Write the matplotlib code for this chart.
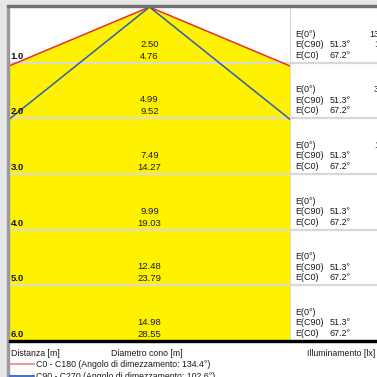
import numpy as np
import matplotlib
matplotlib.use("Agg")
from matplotlib import pyplot as plt
from matplotlib.patches import Rectangle, Polygon

plt.rcParams['font.family'] = ['Liberation Sans', 'DejaVu Sans']

# dati
distanze = [1.0, 2.0, 3.0, 4.0, 5.0, 6.0]
diam_c90 = [2.50, 4.99, 7.49, 9.99, 12.48, 14.98]
diam_c0 = [4.76, 9.52, 14.27, 19.03, 23.79, 28.55]
e_0 = [1375, 344, 153, 86, 55, 38]
e_c90 = [172, 43, 19, 11, 6.9, 4.8]
e_c0 = [40, 10, 4.4, 2.5, 1.6, 1.1]
ang_c90 = 51.3
ang_c0 = 67.2
angolo_c0_c180 = 134.4
angolo_c90_c270 = 102.6

W, H = 377, 377
fig = plt.figure(figsize=(W / 100, H / 100), dpi=100)
fig.patch.set_facecolor('white')

def px(x0, y0, x1, y1):
    # rettangolo in pixel (origine in alto a sinistra) -> coordinate figura
    return [x0 / W, 1 - y1 / H, (x1 - x0) / W, (y1 - y0) / H]

# cornice grigia
fig.add_artist(Rectangle((0, 0), 7 / W, 1, transform=fig.transFigure, color='#e6e6e6', zorder=0))
fig.add_artist(Rectangle((0, 1 - 5 / H), 1, 5 / H, transform=fig.transFigure, color='#e6e6e6', zorder=0))
fig.add_artist(Rectangle((6.5 / W, 0), 2 / W, 1 - 5 / H, transform=fig.transFigure, color='#9a9a9a', zorder=1))
fig.add_artist(Rectangle((6.5 / W, 1 - 7 / H), 1, 2 / H, transform=fig.transFigure, color='#707070', zorder=1))

dmax = 6.0
xmax = 2.52

# area del cono
ax = fig.add_axes(px(9, 7, 290, 341))
ax.set_xlim(-xmax, xmax)
ax.set_ylim(dmax, 0)
ax.axis('off')

t0 = np.tan(np.radians(ang_c0))
t90 = np.tan(np.radians(ang_c90))
ax.add_patch(Polygon([(0, 0), (-t0 * dmax, dmax), (t0 * dmax, dmax)], closed=True,
                     facecolor='#fff200', edgecolor='none', zorder=1))
ax.plot([-t0 * dmax, 0, t0 * dmax], [dmax, 0, dmax], color='#e8302e', lw=1.1, zorder=3)
ax.plot([-t90 * dmax, 0, t90 * dmax], [dmax, 0, dmax], color='#2a5db8', lw=1.1, zorder=3)

for d in distanze[:-1]:
    ax.axhline(d, color='#dcdcc8', lw=1.6, zorder=2)

for i, d in enumerate(distanze):
    ax.text(-xmax + 0.03, d - 0.07, '%.1f' % d, fontsize=6.8, fontweight='bold',
            ha='left', va='baseline', color='#111111', zorder=4)
    ax.text(0, d - 0.29, '%.2f' % diam_c90[i], fontsize=6.8, ha='center', va='baseline',
            color='#1a1a1a', zorder=4)
    ax.text(0, d - 0.07, '%.2f' % diam_c0[i], fontsize=6.8, ha='center', va='baseline',
            color='#1a1a1a', zorder=4)

# tabella illuminamenti
tb = fig.add_axes(px(290, 7, 377, 341))
tb.set_xlim(0, 87)
tb.set_ylim(dmax, 0)
tb.axis('off')
tb.axvline(0, color='#d0d0d0', lw=1.2)
for d in distanze[:-1]:
    tb.axhline(d, color='#d8d8d8', lw=1.6)

def fmt(v):
    return '%.0f' % v if v >= 10 else '%.1f' % v

for i, d in enumerate(distanze):
    tb.text(5, d - 0.47, 'E(0°)', fontsize=6.5, va='baseline', color='#1a1a1a')
    tb.text(5, d - 0.28, 'E(C90)', fontsize=6.5, va='baseline', color='#1a1a1a')
    tb.text(5, d - 0.09, 'E(C0)', fontsize=6.5, va='baseline', color='#1a1a1a')
    tb.text(40, d - 0.28, '%.1f°' % ang_c90, fontsize=6.5, va='baseline', color='#1a1a1a')
    tb.text(40, d - 0.09, '%.1f°' % ang_c0, fontsize=6.5, va='baseline', color='#1a1a1a')
    tb.text(99, d - 0.47, fmt(e_0[i]), fontsize=6.5, ha='right', va='baseline', color='#1a1a1a')
    tb.text(99, d - 0.28, fmt(e_c90[i]), fontsize=6.5, ha='right', va='baseline', color='#1a1a1a')
    tb.text(99, d - 0.09, fmt(e_c0[i]), fontsize=6.5, ha='right', va='baseline', color='#1a1a1a')

# linea di fondo
fig.add_artist(Rectangle((9 / W, 1 - 342 / H), 1, 1.6 / H, transform=fig.transFigure,
                         color='black', zorder=5))

# intestazioni e legenda
fs = 6.3
fig.text(11 / W, 1 - 356 / H, 'Distanza [m]', fontsize=fs, color='#1a1a1a')
fig.text(147 / W, 1 - 356 / H, 'Diametro cono [m]', fontsize=fs, ha='center', color='#1a1a1a')
fig.text(375 / W, 1 - 356 / H, 'Illuminamento [lx]', fontsize=fs, ha='right', color='#1a1a1a')

fig.add_artist(plt.Line2D([10 / W, 34 / W], [1 - 364 / H, 1 - 364 / H], color='#f08c8c', lw=1.3))
fig.add_artist(plt.Line2D([10 / W, 34 / W], [1 - 376 / H, 1 - 376 / H], color='#3266c8', lw=1.3))
fig.text(36 / W, 1 - 367 / H, 'C0 - C180 (Angolo di dimezzamento: %.1f°)' % angolo_c0_c180,
         fontsize=fs, color='#1a1a1a')
fig.text(36 / W, 1 - 379 / H, 'C90 - C270 (Angolo di dimezzamento: %.1f°)' % angolo_c90_c270,
         fontsize=fs, color='#1a1a1a')

fig.savefig('out.png', dpi=100)
